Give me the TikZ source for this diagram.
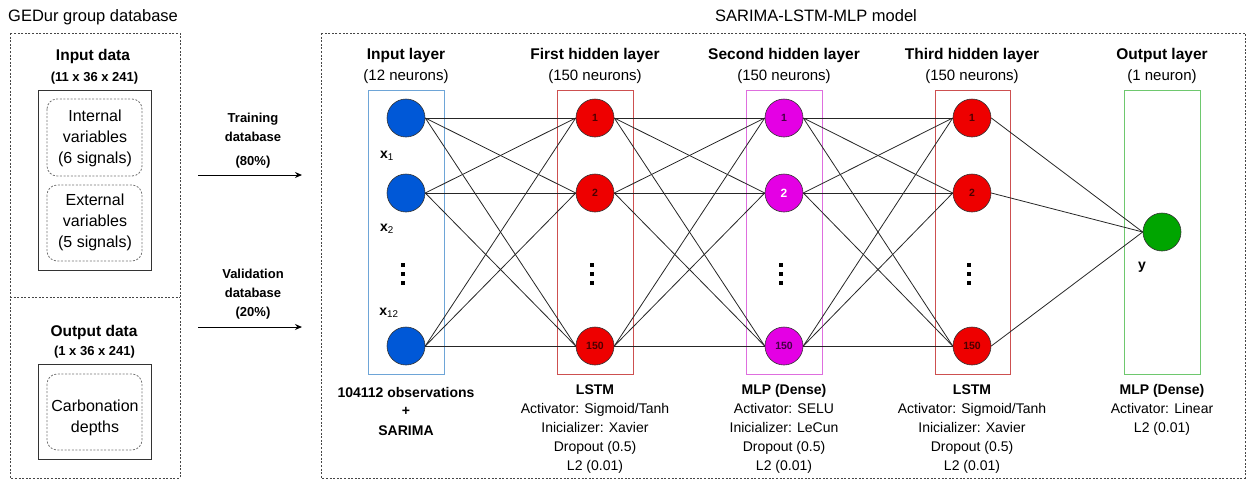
\documentclass[tikz,border=0pt]{standalone}
\usepackage{fontspec}
\setmainfont{Liberation Sans}
\usetikzlibrary{arrows.meta}
\definecolor{nblue}{RGB}{0,88,215}
\definecolor{nred}{RGB}{238,0,0}
\definecolor{nmag}{RGB}{228,0,228}
\definecolor{ngreen}{RGB}{0,165,0}
\definecolor{bblue}{RGB}{110,165,215}
\definecolor{bred}{RGB}{205,80,80}
\definecolor{bmag}{RGB}{222,110,222}
\definecolor{bgreen}{RGB}{110,200,110}
\definecolor{dashc}{RGB}{70,70,70}
\begin{document}
\begin{tikzpicture}[x=1pt,y=-1pt,
  outerbox/.style={draw=dashc, line width=0.8pt, dash pattern=on 2pt off 1.6pt},
  solidbox/.style={draw=black!80, line width=1pt},
  innerbox/.style={draw=black!55, line width=0.8pt, dash pattern=on 2pt off 1.6pt, rounded corners=10pt},
  layerbox/.style={line width=1pt},
  neuron/.style={circle, minimum size=38pt, inner sep=0pt, draw=black!80, line width=0.6pt, font=\fontsize{10.5}{10.5}\selectfont\bfseries},
  conn/.style={draw=black!85, line width=0.8pt},
  arr/.style={draw=black, line width=1pt, -{Stealth[length=7pt,width=6pt]}},
  tb/.style={anchor=base, inner sep=0pt, font=\fontsize{14}{14}\selectfont},
  tbb/.style={tb, font=\fontsize{14}{14}\selectfont\bfseries},
  ttl/.style={anchor=base, inner sep=0pt, font=\fontsize{15.5}{15.5}\selectfont\bfseries},
  ttn/.style={anchor=base, inner sep=0pt, font=\fontsize{15}{15}\selectfont},
  big/.style={anchor=base, inner sep=0pt, font=\fontsize{16.5}{16.5}\selectfont},
  inn/.style={anchor=base, inner sep=0pt, font=\fontsize{16}{16}\selectfont},
  lbl/.style={inner sep=0pt, font=\fontsize{13}{13}\selectfont\bfseries},
  xl/.style={inner sep=0pt, font=\fontsize{14}{14}\selectfont},
  dotsq/.style={fill=black, minimum size=4.5pt, inner sep=0pt, rectangle}
]
\useasboundingbox (0,0) rectangle (1252,480);

% ---------------- left part ----------------
\node[big, anchor=base west] (gedur) at (8,21) {GEDur group database};
\draw[outerbox] (10,33) rectangle (180,478);
\draw[outerbox] (10,297) -- (180,297);

\node[ttl] (indata) at (93,60) {Input data};
\node[lbl, anchor=base] (indim) at (94.5,81) {(11 x 36 x 241)};
\draw[solidbox] (38,90) rectangle (151,270);
\draw[innerbox] (47,99) rectangle (142,176);
\draw[innerbox] (47,185) rectangle (142,261);
\node[inn] (int1) at (95,121) {Internal};
\node[inn] (int2) at (95,142) {variables};
\node[inn] (int3) at (95,163) {(6 signals)};
\node[inn] (ext1) at (95,205) {External};
\node[inn] (ext2) at (95,226) {variables};
\node[inn] (ext3) at (95,247) {(5 signals)};

\node[ttl] (outdata) at (94,336) {Output data};
\node[lbl, anchor=base] (outdim) at (94.5,355) {(1 x 36 x 241)};
\draw[solidbox] (38,364) rectangle (151,459);
\draw[innerbox] (47,374) rectangle (142,450);
\node[inn] (carb1) at (95,411) {Carbonation};
\node[inn] (carb2) at (95,432) {depths};

% arrows
\node[lbl, anchor=base] (tr1) at (253,122) {Training};
\node[lbl, anchor=base] (tr2) at (253,141) {database};
\node[lbl, anchor=base] (tr3) at (253,165) {(80\%)};
\coordinate (ta) at (198,175);
\coordinate (tb) at (302,175);
\draw[arr] (ta) -- (tb);
\node[lbl, anchor=base] (va1) at (253,278) {Validation};
\node[lbl, anchor=base] (va2) at (253,297) {database};
\node[lbl, anchor=base] (va3) at (253,316) {(20\%)};
\coordinate (vaa) at (198,327);
\coordinate (vab) at (302,327);
\draw[arr] (vaa) -- (vab);

% ---------------- model ----------------
\node[big] (model) at (816,21) {SARIMA-LSTM-MLP model};
\draw[outerbox] (321,33) rectangle (1245,478);

% layer boxes
\draw[layerbox, draw=bblue] (368,90) rectangle (444,374);
\draw[layerbox, draw=bred] (557,90) rectangle (633,374);
\draw[layerbox, draw=bmag] (746,90) rectangle (822,374);
\draw[layerbox, draw=bred] (935,90) rectangle (1010,374);
\draw[layerbox, draw=bgreen] (1124,90) rectangle (1200,374);

% titles
\node[ttl] (t1) at (406,59) {Input layer};
\node[ttn] (t1b) at (406,80) {(12 neurons)};
\node[ttl] (t2) at (595,59) {First hidden layer};
\node[ttn] (t2b) at (595,80) {(150 neurons)};
\node[ttl] (t3) at (784,59) {Second hidden layer};
\node[ttn] (t3b) at (784,80) {(150 neurons)};
\node[ttl] (t4) at (972,59) {Third hidden layer};
\node[ttn] (t4b) at (972,80) {(150 neurons)};
\node[ttl] (t5) at (1162,59) {Output layer};
\node[ttn] (t5b) at (1162,80) {(1 neuron)};

% neurons
\node[neuron, fill=nblue] (i1) at (406,118) {};
\node[neuron, fill=nblue] (i2) at (406,193) {};
\node[neuron, fill=nblue] (i3) at (406,346) {};
\node[neuron, fill=nred, text=black!70!red] (a1) at (595,118) {1};
\node[neuron, fill=nred, text=black!70!red] (a2) at (595,193) {2};
\node[neuron, fill=nred, text=black!70!red] (a3) at (595,346) {150};
\node[neuron, fill=nmag, text=black!70!nmag] (b1) at (784,118) {1};
\node[neuron, fill=nmag, text=white, font=\fontsize{12}{12}\selectfont\bfseries] (b2) at (784,193) {2};
\node[neuron, fill=nmag, text=black!70!nmag] (b3) at (784,346) {150};
\node[neuron, fill=nred, text=black!70!red] (c1) at (972,118) {1};
\node[neuron, fill=nred, text=black!70!red] (c2) at (972,193) {2};
\node[neuron, fill=nred, text=black!70!red] (c3) at (972,346) {150};
\node[neuron, fill=ngreen] (o) at (1162,232) {};

% connections
\foreach \p in {1,2,3}{
  \foreach \q in {1,2,3}{
    \draw[conn] (i\p.east) -- (a\q.west);
    \draw[conn] (a\p.east) -- (b\q.west);
    \draw[conn] (b\p.east) -- (c\q.west);
  }
  \draw[conn] (c\p.east) -- (o.west);
}

% vertical dots
\foreach \xx/\nm in {403/di,592/da,781/db,969/dc}{
  \node[dotsq] (\nm1) at (\xx,265) {};
  \node[dotsq] (\nm2) at (\xx,274) {};
  \node[dotsq] (\nm3) at (\xx,283) {};
}

% neuron labels
\node[xl] (x1) at (387,156) {\textbf{x}\textsubscript{1}};
\node[xl] (x2) at (387,229) {\textbf{x}\textsubscript{2}};
\node[xl] (x12) at (389,313) {\textbf{x}\textsubscript{12}};
\node[xl] (yl) at (1142,267) {\textbf{y}};

% bottom descriptions
\node[tbb] (d1a) at (406,397) {104112 observations};
\node[tbb] (d1b) at (406,415) {+};
\node[tbb] (d1c) at (406,435) {SARIMA};

\node[tbb] (d2a) at (595,394) {LSTM};
\node[tb] (d2b) at (595,413) {Activator: Sigmoid/Tanh};
\node[tb] (d2c) at (595,432) {Inicializer: Xavier};
\node[tb] (d2d) at (595,451) {Dropout (0.5)};
\node[tb] (d2e) at (595,470) {L2 (0.01)};

\node[tbb] (d3a) at (784,394) {MLP (Dense)};
\node[tb] (d3b) at (784,413) {Activator: SELU};
\node[tb] (d3c) at (784,432) {Inicializer: LeCun};
\node[tb] (d3d) at (784,451) {Dropout (0.5)};
\node[tb] (d3e) at (784,470) {L2 (0.01)};

\node[tbb] (d4a) at (972,394) {LSTM};
\node[tb] (d4b) at (972,413) {Activator: Sigmoid/Tanh};
\node[tb] (d4c) at (972,432) {Inicializer: Xavier};
\node[tb] (d4d) at (972,451) {Dropout (0.5)};
\node[tb] (d4e) at (972,470) {L2 (0.01)};

\node[tbb] (d5a) at (1162,394) {MLP (Dense)};
\node[tb] (d5b) at (1162,413) {Activator: Linear};
\node[tb] (d5c) at (1162,432) {L2 (0.01)};
\end{tikzpicture}
\end{document}
